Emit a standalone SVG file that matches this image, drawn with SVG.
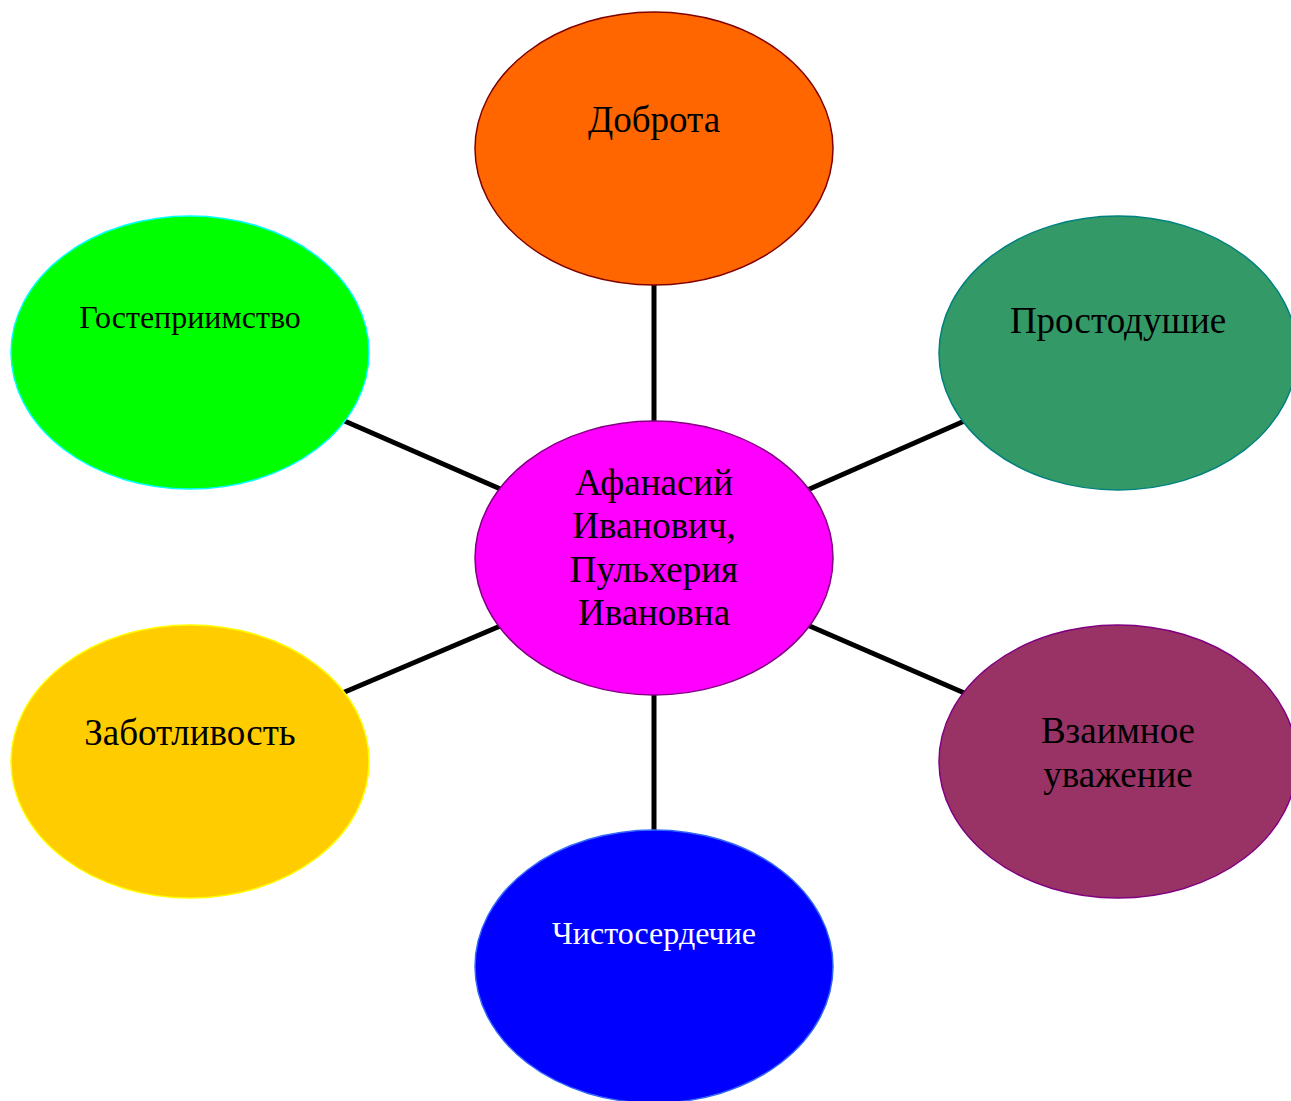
<svg xmlns="http://www.w3.org/2000/svg" width="1291" height="1101" viewBox="0 0 1291 1101">
<style>
.conn line{stroke:#000;stroke-width:5;stroke-linecap:butt}
ellipse{stroke-width:1.5}
text{font-family:"Liberation Serif","Times New Roman",serif;text-anchor:middle;fill:#000}
.big{font-size:37px}
.small{font-size:32px}
</style>
<rect width="1291" height="1101" fill="#fff"/>
<g id="connectors" class="conn">
<line x1="654" y1="280" x2="654" y2="426"/>
<line x1="654" y1="690" x2="654" y2="835"/>
<line x1="340" y1="419" x2="505" y2="491"/>
<line x1="805" y1="491" x2="969" y2="419"/>
<line x1="340" y1="694" x2="505" y2="624"/>
<line x1="805" y1="624" x2="969" y2="695"/>
</g>
<g id="node-dobrota">
<ellipse cx="654" cy="148.5" rx="179" ry="136.5" fill="#FF6600" stroke="#800000"/>
<text class="big" x="654" y="132">Доброта</text>
</g>
<g id="node-gostepriimstvo">
<ellipse cx="190" cy="352.5" rx="179" ry="136.5" fill="#00FF00" stroke="#00FFFF"/>
<text class="small" x="190" y="328">Гостеприимство</text>
</g>
<g id="node-prostodushie">
<ellipse cx="1118" cy="353" rx="179" ry="137" fill="#339966" stroke="#008080"/>
<text class="big" x="1118" y="333">Простодушие</text>
</g>
<g id="node-center">
<ellipse cx="654" cy="558" rx="179" ry="137" fill="#FF00FF" stroke="#800080"/>
<text class="big" x="654" y="495">Афанасий</text>
<text class="big" x="654" y="538">Иванович,</text>
<text class="big" x="654" y="582">Пульхерия</text>
<text class="big" x="654" y="625">Ивановна</text>
</g>
<g id="node-zabotlivost">
<ellipse cx="190" cy="761.5" rx="179" ry="136.5" fill="#FFCC00" stroke="#FFFF00"/>
<text class="big" x="190" y="745">Заботливость</text>
</g>
<g id="node-vzaimnoe">
<ellipse cx="1118" cy="761.5" rx="179" ry="136.5" fill="#993366" stroke="#800080"/>
<text class="big" x="1118" y="743">Взаимное</text>
<text class="big" x="1118" y="787">уважение</text>
</g>
<g id="node-chistoserdechie">
<ellipse cx="654" cy="966.5" rx="179" ry="136.5" fill="#0000FF" stroke="#3366FF"/>
<text class="small" x="654" y="944" style="fill:#fff">Чистосердечие</text>
</g>
</svg>
